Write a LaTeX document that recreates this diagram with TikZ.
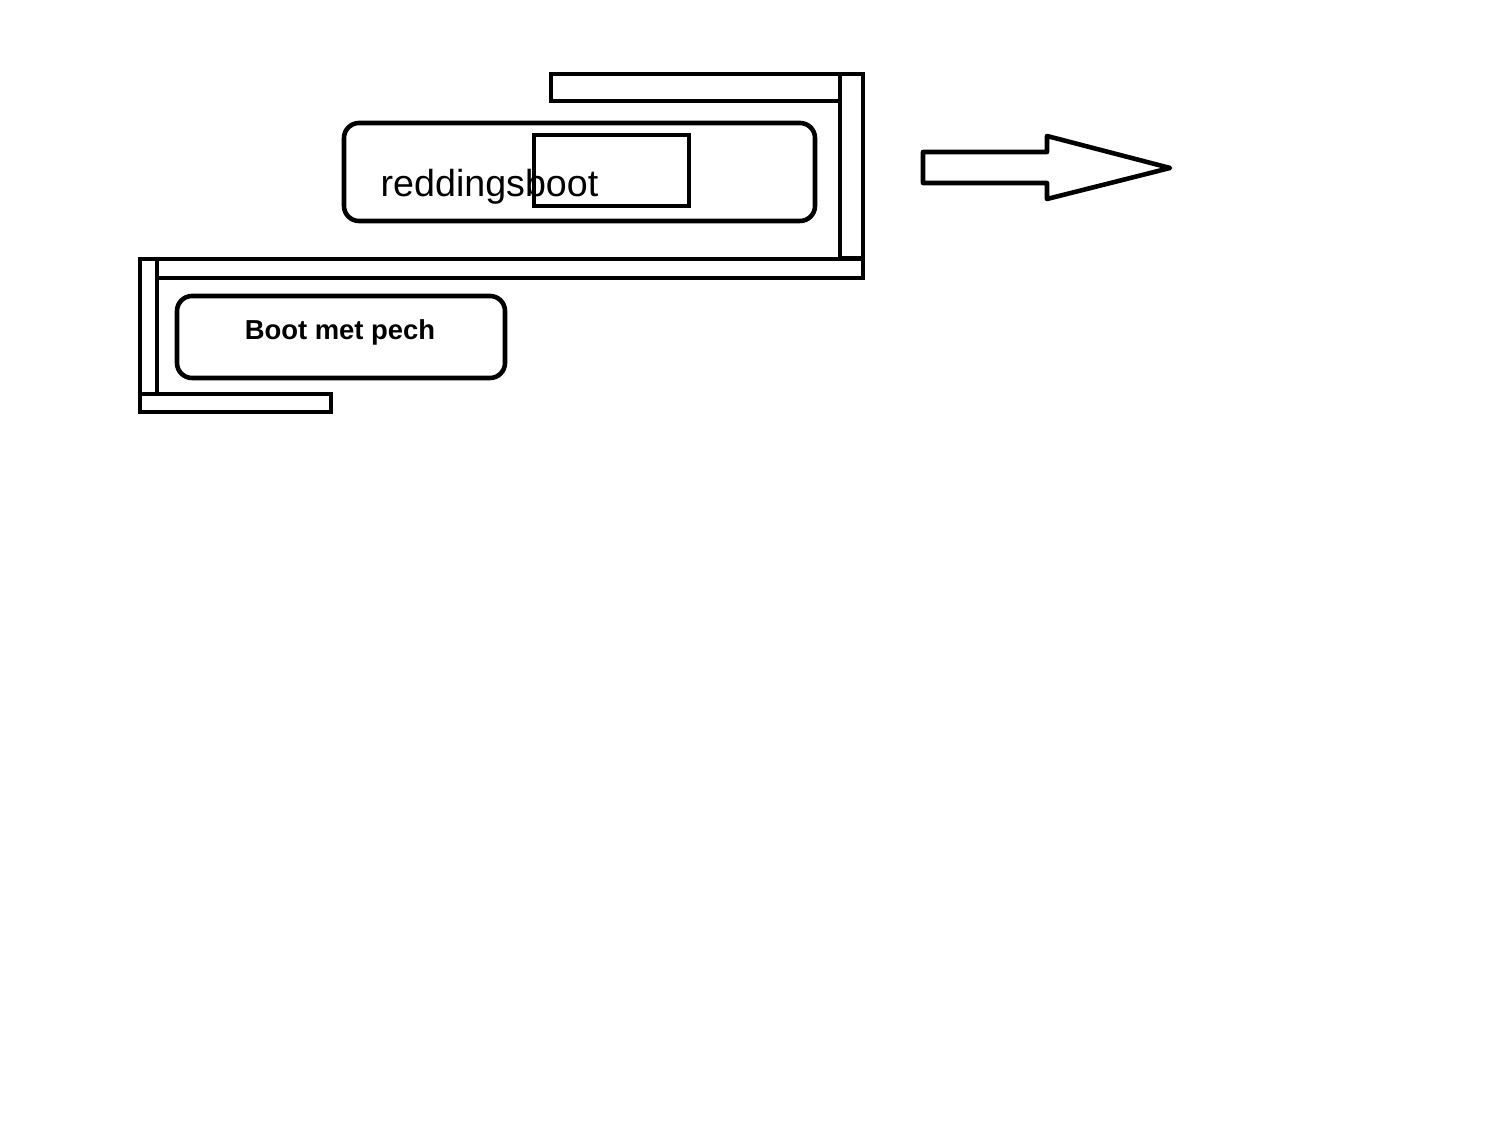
\documentclass[tikz,border=0pt]{standalone}
\usepackage{fontspec}
\setmainfont{Liberation Sans}
\usetikzlibrary{positioning}

\begin{document}
\begin{tikzpicture}[
    x=0.01cm, y=-0.01cm,
    bar/.style={draw=black, line width=1.3pt, fill=white},
    boatbox/.style={draw=black, line width=1.3pt, rounded corners=0.15cm},
    boatlbl/.style={font=\fontsize{10.7}{12}\selectfont, inner sep=0pt},
    pechlbl/.style={font=\bfseries\fontsize{7.8}{9}\selectfont, inner sep=0pt}
]
\useasboundingbox (0,0) rectangle (1500,1125);

% === Reddingsboot ===
\draw[boatbox] (344,123) rectangle (815,221);
\node[boatlbl, anchor=base west] (redlbl) at (380,197) {reddingsboot};
\draw[line width=1.3pt] (534,135) rectangle (689,206);

% === Boot met pech ===
\draw[boatbox] (177,296) rectangle (505,378);
\node[pechlbl, anchor=base] (pechlbl) at (340,340) {Boot met pech};

% === Steigers ===
\draw[bar] (551,74) rectangle (840,101);
\draw[bar] (840,74) rectangle (863,258);
\draw[bar] (157,259) rectangle (863,278);
\draw[bar] (140,259) rectangle (157,394);
\draw[bar] (140,394) rectangle (331,412);

% === Richting (pijl) ===
\draw[line width=1.3pt, line join=round] (923,152) -- (1047,152) -- (1047,136) -- (1170,168)
    -- (1047,199) -- (1047,183) -- (923,183) -- cycle;

\end{tikzpicture}
\end{document}
